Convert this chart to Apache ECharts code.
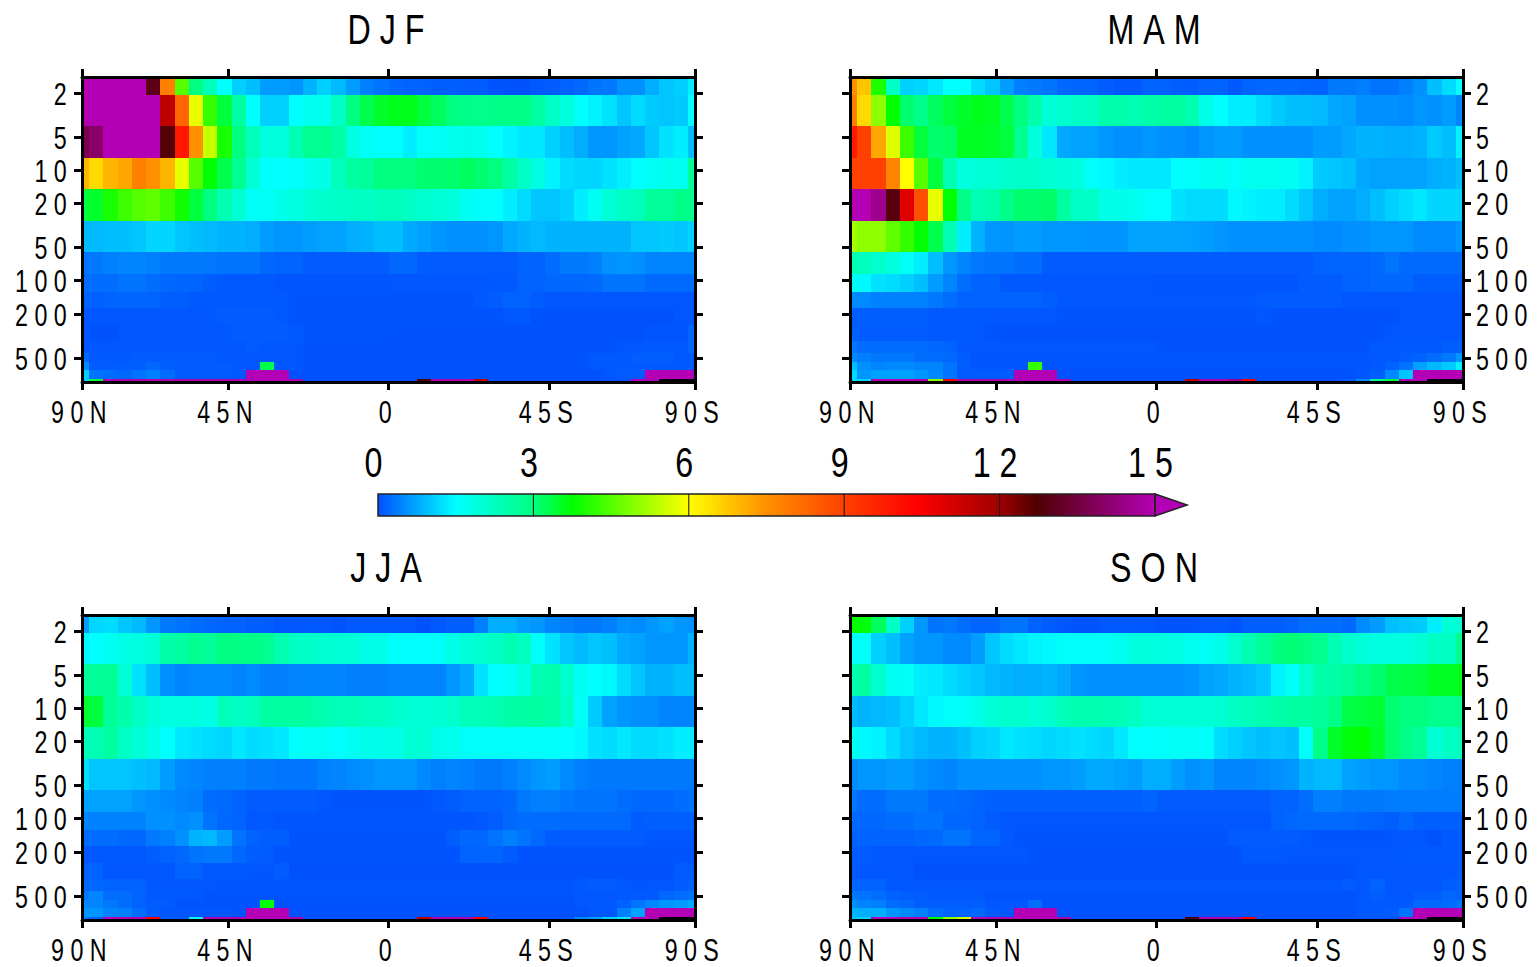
<!DOCTYPE html>
<html><head><meta charset="utf-8">
<style>
html,body{margin:0;padding:0;background:#fff}
#c{width:1539px;height:967px}
svg text{letter-spacing:8.5px}
svg text[style*="43px"]{letter-spacing:12px}
</style>
<script src="https://cdn.jsdelivr.net/npm/echarts@6/dist/echarts.min.js"></script>
</head><body><div id="c"></div>
<script>
const seasons=['DJF','MAM','JJA','SON'];
const latTicks=[0,10.25,21.5,32.75,43];
const latLabels=['90N','45N','0','45S','90S'];
const pressureTicks=[2,5,10,20,50,100,200,500];
const levelEdges=[1.433,2.085,3.98,7.75,14.78,28.8,54.9,86.9,126.4,176.4,251.5,351,450.6,543.7,642,775,825];
const colorbarTicks=[0,3,6,9,12,15];
const NA=-1;
const djf=[
[16,16,16,16,16,13,7.8,4.5,3,2.3,1.5,1.1,.95,.65,.65,.6,.85,1.1,.9,.65,.4,.3,.2,.15,.15,.12,.12,.1,.1,.03,.02,.02,.08,.1,.15,.2,.3,.35,.55,.55,.8,1,1.1,1.35],
[16,16,16,16,16,15,11.5,8.3,5.8,4.2,3.4,2.6,1.5,1.1,1.1,1.5,1.7,1.7,2.2,3,3.3,3.5,3.6,3.6,3.4,3.2,3,2.9,2.85,2.9,2.9,2.9,2.6,2.2,1.9,1.5,1.4,1.25,1,1.2,1.05,1,1.05,1.5],
[13.7,14,16,16,16,16,12.8,9.9,7.5,5.5,3.95,3,2.3,1.9,1.9,2.4,2.8,2.8,2.6,1.85,1.6,1.5,1.5,1.35,1.55,1.6,1.7,1.75,1.7,1.5,1.4,1.3,1.3,1.1,.95,.8,.6,.6,.7,.75,1,1.25,1.35,.95],
[7,6.5,7,7.2,7.8,7.5,7,5.8,4.5,3.75,3.3,2.8,2,1.5,1.5,1.55,1.7,1.8,2.3,2.6,2.7,3,3,3,3.1,3.1,3.1,3.2,3.1,3,2.6,2.2,1.85,1.4,1.2,1.15,1.15,1.25,1.35,1.5,1.6,1.7,1.7,2.7],
[3.4,3.5,3.95,4.3,4.5,4.6,4.3,3.9,3.4,3,2.4,2,1.6,1.6,1.75,1.85,2,2.1,2.15,2.2,2.2,2.3,2.3,2.2,2.1,2,1.9,1.65,1.55,1.5,1.35,1.2,1,1,1.1,1.35,1.65,1.95,2.2,2.3,2.7,2.7,2.9,2.9],
[.9,.9,.95,.95,1,1.15,1.15,1,.95,.9,.85,.85,.8,.65,.6,.6,.65,.7,.7,.8,.85,.95,.95,.75,.7,.6,.55,.55,.55,.6,.75,.85,.9,.85,.85,.85,.85,.85,.85,1,1,1.05,1,1.1],
[.3,.35,.4,.45,.45,.4,.35,.35,.35,.35,.3,.3,.3,.2,.18,.18,.1,.1,.1,.1,.1,.1,.2,.2,.1,.1,.1,.1,.1,.1,.1,.15,.15,.25,.35,.35,.4,.55,.6,.55,.45,.45,.45,.45],
[.25,.25,.25,.3,.3,.25,.2,.18,.18,.12,.07,.07,.07,.07,.04,.04,.04,.04,.04,.04,.04,.04,.05,.05,.05,.05,.05,.05,.05,.08,.08,.15,.15,.2,.2,.2,.22,.3,.3,.3,.22,.22,.22,.22],
[.17,.14,.17,.17,.17,.17,.12,.12,.07,.07,.07,.07,.07,.07,.07,.03,.03,.03,.03,.03,.03,.03,.03,.03,.03,.03,.03,.03,.07,.1,.15,.15,.1,.06,.06,.06,.06,.06,.06,.06,.06,.06,.06,.06],
[.05,.05,.05,.05,.05,.05,.05,.05,.05,.05,.1,.1,.1,.1,.07,.03,.03,.03,.03,.03,.03,.03,.03,.03,.03,.03,.03,.03,.03,.03,.07,.07,.02,.02,.02,.02,.02,.02,.02,.02,.02,.02,.05,.05],
[.07,.02,.02,.05,.05,.05,.05,.05,.05,.05,.05,.1,.1,.1,.1,.07,.03,.03,.03,.03,.03,.03,.02,.02,.02,.02,.02,.02,.02,.02,.02,.02,.02,.02,.02,.02,.02,.02,.02,.02,.04,.04,.04,.2],
[.05,.05,.05,.05,.05,.05,.05,.05,.05,.05,.05,.05,.1,.05,.05,.05,.02,.02,.02,.02,.02,.02,.02,.02,.02,.02,.02,.02,.02,.02,.02,.02,.02,.02,.02,.02,.02,.02,.05,.05,.08,.08,.08,.2],
[.2,.07,.07,.07,.1,.1,.1,.1,.1,.1,.05,.05,.05,.05,.05,.05,.02,.02,.02,.02,.02,.02,.02,.02,.02,.02,.02,.02,.02,.02,.02,.02,.02,.02,.02,.02,.07,.07,.07,.12,.12,.12,.07,.07],
[.5,.1,.1,.12,.12,.2,.12,.1,.1,.1,.1,.05,.05,3.3,.05,.05,.02,.02,.02,.02,.02,.02,.02,.02,.02,.02,.02,.02,.02,.02,.02,.02,.02,.02,.02,.02,.07,.07,.07,.08,.08,.08,.08,.1],
[1.1,.3,.25,.2,.3,.4,.25,.1,.1,.1,.1,.05,16,16,16,.02,.02,.02,.02,.02,.02,.02,.02,.02,.02,.02,.02,.02,.02,.02,.02,.02,.02,.02,.02,.02,.02,.05,.1,.1,16,16,16,16],
[1.1,3.4,16,16,16,16,16,16,16,16,16,16,16,16,16,16,.02,.02,.02,.02,.02,.02,.02,.02,12.8,16,16,16,11.5,.02,.02,.02,.02,.02,.02,.02,.02,.02,.02,16,16,NA,NA,NA]
];
const mam=[
[7.5,6.8,4,2.2,1.1,1.15,1.3,1.5,1.5,1.2,1,.65,.4,.35,.3,.2,.18,.15,.1,.05,.08,.15,.15,.12,.1,.15,.15,.08,.15,.2,.2,.2,.17,.15,.35,.35,.4,.3,.3,.4,.55,.95,1.2,1.5],
[7.8,6.5,5,3.75,3.1,2.9,3.2,3.4,3.5,3.6,3.55,3.3,3,2.5,1.95,2.1,2.15,2.2,2.5,2.5,2.4,2.5,2.6,2.65,2.4,1.75,1.5,1.35,1.35,1.2,1.05,.95,.95,.9,.75,.7,.55,.55,.55,.5,.6,.55,.65,.45],
[9.8,9,7.2,5.7,4.3,3.4,3.1,3.15,3.55,3.55,3.5,3.4,2.8,1.9,1.3,.75,.7,.7,.6,.55,.55,.6,.55,.55,.5,.6,.65,.65,.55,.55,.55,.55,.55,.65,.65,.75,.85,.85,.8,.8,.85,1.05,.95,1.4],
[9,9,9,7.7,6,4.5,3.4,2.4,1.9,1.95,2,2.1,2.15,2.1,2,1.95,1.85,1.55,1.45,1.35,1.3,1.3,1.3,1.5,1.55,1.65,1.65,1.55,1.7,1.7,1.65,1.65,1.4,1.05,1,.95,.75,.7,.7,.7,.7,.8,.85,.95],
[16,16,14.5,12.9,10.9,8.7,5.8,3.75,2.9,2.4,2.5,2.9,3.1,3.1,3.15,2.6,2.2,2.15,1.8,1.75,1.7,1.55,1.5,1.25,1.2,1.2,1.2,1.45,1.4,1.35,1.35,1.2,1,.8,.7,.7,.8,.95,1.1,1.2,1.3,1.15,1.15,1.15],
[5.2,5,5,4.6,4.2,3.75,3.3,2.4,1.35,.85,.6,.58,.65,.65,.6,.6,.6,.58,.58,.58,.7,.72,.72,.7,.7,.65,.6,.55,.55,.55,.55,.55,.55,.5,.5,.55,.55,.6,.6,.6,.5,.5,.5,.6],
[2.4,2.3,2.1,1.9,1.6,1.35,.95,.6,.45,.35,.3,.3,.25,.25,.1,.1,.1,.1,.1,.1,.1,.1,.1,.1,.1,.1,.1,.1,.1,.1,.1,.1,.1,.15,.18,.18,.18,.22,.3,.22,.22,.22,.22,.22],
[1.6,1.45,1.25,1.2,1.1,.95,.65,.45,.25,.15,.15,.08,.08,.08,.05,.05,.05,.05,.05,.05,.05,.05,.04,.04,.04,.04,.04,.04,.04,.04,.04,.04,.1,.1,.1,.15,.15,.2,.2,.2,.12,.12,.12,.12],
[.5,.5,.42,.42,.42,.42,.35,.25,.15,.15,.15,.15,.15,.15,.12,.06,.06,.06,.06,.06,.06,.06,.06,.06,.06,.06,.06,.06,.06,.1,.1,.1,.1,.1,.1,.05,.05,.05,.05,.05,.05,.05,.05,.05],
[.12,.12,.12,.12,.12,.12,.08,.08,.08,.08,.05,.05,.06,.06,.06,.03,.03,.03,.03,.03,.03,.03,.03,.03,.03,.03,.03,.03,.03,.06,.02,.02,.02,.02,.02,.02,.02,.02,.02,.05,.05,.05,.05,.05],
[.15,.1,.1,.1,.1,.1,.07,.07,.07,.07,.03,.02,.02,.02,.02,.02,.02,.02,.02,.02,.02,.02,.02,.02,.02,.02,.02,.02,.02,.02,.02,.02,.02,.02,.02,.02,.02,.02,.05,.05,.05,.05,.05,.05],
[.35,.25,.25,.25,.25,.25,.2,.15,.05,.05,.05,.05,.05,.05,.05,.05,.05,.05,.05,.05,.05,.05,.02,.02,.02,.02,.02,.02,.02,.02,.02,.02,.02,.02,.02,.02,.02,.07,.07,.07,.07,.07,.12,.12],
[.5,.4,.35,.35,.35,.25,.25,.2,.1,.04,.04,.04,.04,.04,.04,.04,.04,.04,.04,.04,.04,.04,.04,.04,.04,.04,.04,.04,.04,.04,.04,.04,.04,.04,.04,.04,.06,.06,.08,.12,.15,.25,.35,.6],
[.95,.55,.45,.5,.5,.45,.45,.3,.12,.05,.05,.05,.05,4.2,.03,.03,.03,.03,.03,.03,.03,.03,.03,.03,.03,.03,.03,.03,.03,.03,.03,.03,.03,.03,.03,.03,.03,.07,.15,.3,.7,.9,1.05,1.4],
[1.2,.6,.7,.7,.7,.6,.5,.3,.1,.1,.1,.1,16,16,16,.02,.02,.02,.02,.02,.02,.02,.02,.02,.02,.02,.02,.02,.02,.02,.02,.02,.02,.02,.02,.02,.05,.12,.5,1,16,16,16,16],
[1.2,1.15,16,16,16,16,5,10.4,16,16,16,16,16,16,16,16,.02,.02,.02,.02,.02,.02,.02,.02,11.5,16,16,14.5,10.4,.02,.02,.02,.02,.02,.02,.1,.5,2.8,3.4,16,16,NA,NA,NA]
];
const jja=[
[.65,1.15,1.2,1,.9,.6,.35,.3,.25,.2,.15,.15,.12,.1,.05,.05,.08,.05,.03,.07,.07,.07,.07,.06,.02,.07,.12,.12,.4,.8,.8,.65,.6,.45,.4,.35,.35,.4,.55,.5,.6,.7,.6,.55],
[1.45,1.5,1.65,1.8,1.85,2,2.5,2.65,2.8,2.7,3,2.95,2.9,2.8,2.45,2.2,2.15,2.05,2,1.95,1.8,1.75,1.55,1.5,1.5,1.55,1.8,1.95,2.1,2.2,2.4,2.25,1.55,1.25,1,.9,1,.95,.75,.7,.6,.6,.6,.85],
[2.7,2.7,2.75,1.95,1.25,.95,.55,.45,.5,.5,.5,.45,.5,.4,.4,.45,.45,.45,.45,.4,.4,.4,.45,.45,.45,.45,.6,.75,1.25,1.5,1.6,1.85,2.4,2.5,2.1,1.65,1.5,1.45,1.2,1,.85,.85,.95,.95],
[3.5,3.4,2.7,2.5,2.2,1.95,1.85,1.85,1.85,1.8,2.3,2.2,2.3,2.6,2.6,2.65,2.55,2.45,2.3,2.35,2.25,2.2,2.1,2,2,2,2.1,2.3,2.35,2.4,2.55,2.6,2.6,2.5,2.2,1.55,1.05,.7,.6,.55,.55,.45,.45,.45],
[2.3,2.4,2.6,2.2,2,1.8,1.5,1.3,1.25,1.2,1.15,1.3,1.2,1.25,1.3,1.5,1.6,1.6,1.5,1.65,1.75,1.75,1.8,2,2,1.75,1.7,1.55,1.55,1.55,1.55,1.55,1.55,1.55,1.5,1.45,1.25,1.2,1.3,1.2,1.2,1.25,1.35,1.35],
[1.25,1,1,1,.95,.9,.65,.5,.45,.4,.4,.4,.35,.35,.32,.32,.32,.42,.45,.5,.55,.6,.6,.6,.5,.4,.45,.4,.35,.35,.4,.5,.6,.65,.5,.4,.35,.35,.35,.35,.35,.35,.35,.35],
[.7,.7,.7,.7,.6,.55,.5,.45,.4,.25,.22,.15,.1,.1,.1,.1,.1,.05,.03,.03,.03,.03,.03,.03,.03,.08,.1,.15,.15,.15,.2,.35,.4,.4,.35,.3,.3,.3,.25,.2,.2,.2,.25,.3],
[.45,.42,.42,.42,.42,.55,.55,.5,.55,.3,.2,.15,.06,.07,.04,.04,.04,.04,.04,.04,.04,.04,.04,.04,.04,.04,.04,.04,.08,.12,.2,.25,.25,.25,.22,.22,.22,.22,.22,.1,.14,.14,.14,.14],
[.22,.25,.25,.2,.2,.35,.4,.55,.85,.9,.65,.3,.15,.12,.12,.03,.03,.03,.03,.03,.03,.03,.03,.03,.03,.03,.12,.2,.2,.3,.4,.3,.2,.1,.1,.1,.1,.1,.1,.1,.05,.05,.05,.05],
[.08,.08,.08,.08,.08,.12,.15,.2,.3,.35,.35,.2,.12,.1,.03,.03,.03,.03,.03,.03,.03,.03,.03,.03,.03,.03,.03,.15,.18,.18,.1,.03,.03,.03,.03,.03,.03,.03,.03,.03,.03,.03,.03,.03],
[.15,.15,.05,.05,.05,.05,.05,.15,.15,.07,.07,.07,.05,.05,.1,.02,.02,.02,.02,.02,.02,.02,.02,.02,.02,.02,.02,.02,.02,.02,.02,.02,.02,.02,.02,.02,.02,.02,.02,.02,.02,.02,.1,.1],
[.2,.2,.15,.15,.15,.05,.05,.05,.05,.05,.04,.04,.04,.04,.04,.04,.04,.04,.04,.04,.04,.04,.04,.04,.04,.04,.04,.04,.04,.04,.04,.04,.04,.04,.04,.08,.1,.1,.08,.04,.05,.05,.1,.15],
[.35,.45,.25,.25,.15,.07,.07,.07,.07,.03,.03,.03,.03,.03,.03,.03,.03,.03,.03,.03,.03,.03,.03,.03,.03,.03,.03,.03,.03,.03,.03,.03,.03,.03,.03,.05,.05,.05,.08,.08,.08,.2,.25,.3],
[.45,.45,.35,.25,.15,.1,.1,.03,.03,.03,.03,.03,.03,3.75,.02,.02,.02,.02,.02,.02,.02,.02,.02,.02,.02,.02,.02,.02,.02,.02,.02,.02,.02,.02,.02,.05,.08,.08,.15,.3,.45,.6,.65,.75],
[.6,.6,.45,.4,.25,.1,.05,.05,.05,.05,.05,.03,16,16,16,.02,.02,.02,.02,.02,.02,.02,.02,.02,.02,.02,.02,.02,.02,.02,.02,.02,.02,.02,.02,.02,.05,.05,.4,.7,16,16,16,16],
[.3,.15,16,16,16,10.4,.05,.05,1.7,16,16,16,16,16,16,16,.02,.02,.02,.02,.02,.02,.02,.02,11.5,16,16,16,10.4,.02,.02,.02,.02,.02,.02,.5,.65,1.1,1.3,16,16,NA,NA,NA]
];
const son=[
[3.8,3.7,3.2,2.2,1.1,.6,.3,.35,.25,.18,.18,.3,.3,.15,.1,.05,.03,.03,.08,.08,.07,.05,.03,.03,.03,.05,.07,.03,.12,.12,.12,.15,.25,.25,.25,.2,.5,.65,.95,1,1.05,1.35,2,2],
[1.5,1.55,1.1,.95,.7,.6,.6,.5,.5,.65,1,1.2,1.3,1.4,1.45,1.55,1.55,1.55,1.6,1.7,1.85,1.9,1.85,1.8,1.7,1.6,1.75,2.1,2.4,2.7,3,3.05,3,2.8,2.4,2.1,1.95,1.85,1.85,1.85,2,2.2,2.2,2.8],
[2.4,2.6,2.1,1.65,1.6,1.35,1.3,1.2,1.1,1,.9,.85,.8,.8,.85,.75,.6,.55,.55,.55,.55,.55,.55,.55,.6,.7,.75,.85,.9,1,1.4,1.6,2.1,2.5,2.55,2.7,3,3.1,3.3,3.35,3.4,3.55,3.55,3.6],
[.9,.85,.9,.95,1.1,1.3,1.45,1.55,1.6,1.75,1.95,2.1,2.1,1.95,2.1,2.35,2.45,2.45,2.4,2.35,2.25,2,2,2,2,2,2.05,2.2,2.3,2.4,2.5,2.6,2.6,2.7,2.9,3.35,3.4,3.45,3.1,3,3,2.85,2.8,2.85],
[1.7,1.45,1.4,1.2,1,.9,.85,.85,.95,1.1,1.15,1.3,1.25,1.2,1.15,1.2,1.25,1.2,1.15,1.3,1.55,1.5,1.55,1.6,1.6,1.55,1.2,1.1,1,.95,1,.95,1.55,2.9,3.5,3.7,3.75,3.5,3.1,2.9,2.7,2,2.2,2.3],
[.5,.6,.6,.65,.65,.55,.5,.45,.55,.55,.55,.55,.55,.55,.6,.6,.65,.75,.75,.7,.65,.8,.8,.65,.55,.6,.45,.45,.45,.5,.55,.6,.85,.9,.9,.7,.65,.6,.6,.5,.5,.45,.4,.4],
[.35,.25,.25,.35,.35,.35,.25,.25,.22,.18,.13,.13,.13,.13,.13,.13,.13,.13,.13,.13,.13,.18,.1,.1,.1,.1,.1,.1,.1,.1,.15,.15,.25,.4,.4,.35,.35,.35,.38,.38,.38,.38,.38,.38],
[.2,.2,.2,.25,.25,.3,.3,.2,.2,.15,.1,.05,.05,.05,.05,.05,.05,.05,.05,.05,.05,.05,.05,.05,.05,.05,.05,.05,.05,.05,.15,.2,.22,.22,.22,.22,.18,.15,.12,.2,.13,.13,.13,.13],
[.15,.15,.15,.15,.15,.2,.22,.3,.3,.18,.18,.08,.03,.03,.03,.03,.03,.03,.03,.03,.03,.03,.03,.03,.03,.03,.03,.1,.1,.1,.1,.1,.07,.03,.03,.03,.03,.03,.05,.05,.05,.02,.07,.07],
[.1,.1,.05,.05,.05,.05,.05,.05,.05,.05,.05,.05,.05,.02,.02,.02,.02,.02,.02,.02,.02,.02,.02,.02,.02,.02,.02,.02,.07,.07,.07,.05,.05,.05,.05,.05,.05,.05,.05,.08,.08,.08,.08,.08],
[.1,.05,.05,.05,.05,.02,.02,.02,.02,.02,.02,.02,.02,.02,.02,.02,.02,.02,.02,.02,.02,.02,.02,.02,.02,.02,.02,.02,.02,.02,.02,.02,.02,.02,.02,.02,.05,.05,.05,.05,.05,.05,.05,.1],
[.2,.15,.15,.08,.05,.05,.05,.05,.05,.05,.05,.05,.05,.05,.05,.05,.05,.05,.05,.05,.05,.05,.05,.05,.05,.05,.05,.05,.05,.05,.05,.05,.05,.05,.05,.1,.05,.15,.05,.05,.05,.05,.12,.15],
[.35,.3,.25,.15,.12,.1,.07,.08,.08,.08,.03,.03,.03,.03,.03,.03,.03,.03,.03,.03,.03,.03,.03,.03,.03,.03,.03,.03,.03,.03,.03,.03,.03,.03,.03,.03,.05,.12,.05,.05,.12,.12,.2,.15],
[.55,.45,.4,.25,.2,.12,.12,.12,.12,.12,.05,.05,.05,.25,.03,.03,.03,.03,.03,.03,.03,.03,.03,.03,.03,.03,.03,.03,.03,.03,.03,.03,.03,.03,.03,.03,.07,.07,.07,.07,.2,.2,.25,.3],
[.85,.8,.8,.6,.5,.4,.25,.15,.15,.2,.1,.06,16,16,16,.02,.02,.02,.02,.02,.02,.02,.02,.02,.02,.02,.02,.02,.02,.02,.02,.02,.02,.02,.02,.02,.08,.08,.1,.3,16,16,16,16],
[1,1.15,16,16,16,16,3.75,5,5.6,16,16,16,16,16,16,16,.02,.02,.02,.02,.02,.02,.02,.02,12.8,16,16,16,10.4,.02,.02,.02,.02,.02,.02,.02,.02,.02,.02,16,16,NA,NA,NA]
];
const seasonData=[djf,mam,jja,son];
const colorStops=[[0,'#0050ff'],[1.5,'#00ffff'],[3,'#00ff80'],[3.75,'#00ff00'],[6,'#ffff00'],[7.5,'#ff9000'],[9,'#ff4000'],[10.4,'#ff0000'],[12,'#a00000'],[12.7,'#500000'],[15,'#b400b4']];

function hex(c){return [1,3,5].map(i=>parseInt(c.substr(i,2),16));}
function colorOf(v){
  if(v<0)return '#000000';
  if(v>=15)return '#b400b4';
  for(let i=1;i<colorStops.length;i++){
    if(v<=colorStops[i][0]){
      const [a,ca]=colorStops[i-1],[b,cb]=colorStops[i];
      const t=(v-a)/(b-a),A=hex(ca),B=hex(cb);
      return 'rgb('+A.map((x,k)=>Math.round(x+(B[k]-x)*t)).join(',')+')';
    }
  }
}
const font='"Liberation Sans",Arial,sans-serif';
const lgEdges=levelEdges.map(p=>Math.log10(p));
const lgTicks=pressureTicks.map(p=>Math.log10(p));
const FS=31;
const layout=[[82,77],[850,77],[82,615],[850,615]];
const W=613,H=305;
const grid=[],xAxis=[],yAxis=[],series=[],title=[];
seasons.forEach((s,i)=>{
  const [l,t]=layout[i];
  grid.push({left:l,top:t,width:W,height:H});
  title.push({text:s,left:l+W/2-3,top:t-75,textAlign:'center',textStyle:{fontFamily:font,fontSize:43,fontWeight:'normal',color:'#000'}});
  const line={show:true,onZero:false,lineStyle:{color:'#000',width:3}};
  const tick={show:true,length:8,lineStyle:{color:'#000',width:3}};
  [['bottom',true],['top',false]].forEach(([pos,lab])=>{
    xAxis.push({gridIndex:i,type:'value',position:pos,z:5,min:0,max:43,axisLine:line,splitLine:{show:false},
      axisTick:{...tick,customValues:latTicks},
      axisLabel:{show:lab,customValues:latTicks,margin:14,showMinLabel:true,showMaxLabel:true,fontFamily:font,fontSize:FS,color:'#000',formatter:v=>latLabels[latTicks.indexOf(v)]}});
  });
  const labelSide=(i%2===0)?'left':'right';
  ['left','right'].forEach(pos=>{
    yAxis.push({gridIndex:i,type:'value',position:pos,z:5,inverse:true,min:lgEdges[0],max:lgEdges[lgEdges.length-1],axisLine:line,splitLine:{show:false},
      axisTick:{...tick,customValues:lgTicks},
      axisLabel:{show:pos===labelSide,customValues:lgTicks,margin:pos==='left'?9:13,fontFamily:font,fontSize:FS,color:'#000',formatter:v=>String(Math.round(Math.pow(10,v)))}});
  });
  const items=[];
  seasonData[i].forEach((row,r)=>row.forEach((v,c)=>items.push([c,lgEdges[r],lgEdges[r+1],v])));
  series.push({type:'custom',coordinateSystem:'cartesian2d',xAxisIndex:2*i,yAxisIndex:2*i,silent:true,clip:true,animation:false,
    encode:{x:0,y:[1,2]},data:items,z:1,
    renderItem:(p,api)=>{
      const c=api.value(0);
      const x0=Math.max(0,c-0.5),x1=Math.min(43,c+0.5);
      const a=api.coord([x0,api.value(1)]),b=api.coord([x1,api.value(2)]);
      const X=Math.round(a[0]),Y=Math.round(a[1]);
      return {type:'rect',shape:{x:X,y:Y,width:Math.round(b[0])-X,height:Math.round(b[1])-Y},style:{fill:colorOf(api.value(3))}};
    }});
});
/* colour bar */
grid.push({left:378,top:494,width:777,height:22});
xAxis.push({gridIndex:4,type:'value',position:'top',min:0,max:15,interval:3,axisLine:{show:false},axisTick:{show:false},
  splitLine:{show:false},
  axisLabel:{margin:11,fontFamily:font,fontSize:43,color:'#000',showMinLabel:true,showMaxLabel:true,customValues:colorbarTicks}});
yAxis.push({gridIndex:4,type:'value',min:0,max:1,show:false});
series.push({type:'custom',coordinateSystem:'cartesian2d',xAxisIndex:8,yAxisIndex:8,silent:true,clip:false,animation:false,z:2,
  data:[[0,15,0,1]],encode:{x:[0,1],y:[2,3]},
  renderItem:(p,api)=>{
    const a=api.coord([0,1]),b=api.coord([15,0]),tip=api.coord([15.62,0.5]);
    const grad=new echarts.graphic.LinearGradient(0,0,1,0,colorStops.map(([v,c])=>({offset:v/15,color:c})));
    const stroke={stroke:'#222',lineWidth:1.5};
    const kids=[
      {type:'rect',shape:{x:a[0],y:a[1],width:b[0]-a[0],height:b[1]-a[1]},style:{fill:grad}},
      {type:'polygon',shape:{points:[[b[0],a[1]],[tip[0],tip[1]],[b[0],b[1]]]},style:{fill:'#b400b4',...stroke}},
      {type:'rect',shape:{x:a[0],y:a[1],width:b[0]-a[0],height:b[1]-a[1]},style:{fill:'none',...stroke}}
    ];
    colorbarTicks.slice(1,-1).forEach(v=>{
      const q=api.coord([v,0]);
      kids.push({type:'line',shape:{x1:q[0],y1:a[1],x2:q[0],y2:b[1]},style:{stroke:'#111',lineWidth:1}});
    });
    return {type:'group',children:kids};
  }});
const chart=echarts.init(document.getElementById('c'),null,{renderer:'svg',width:1539,height:967});
/* the reference type is a condensed face: narrow each real text element about its anchor */
const TEXT_NARROW=0.75;
function narrowText(){
  document.querySelectorAll('#c svg text').forEach(t=>{
    if(t.getAttribute('data-n'))return;
    const x=parseFloat(t.getAttribute('x')||'0');
    const base=t.getAttribute('transform')||'';
    t.setAttribute('transform',base+' translate('+x+' 1) scale('+TEXT_NARROW+' 1) translate('+(-x)+' 0)');
    t.setAttribute('data-n','1');
  });
}
chart.on('finished',narrowText);
chart.setOption({animation:false,backgroundColor:'#fff',title,grid,xAxis,yAxis,series});
narrowText();
</script></body></html>
